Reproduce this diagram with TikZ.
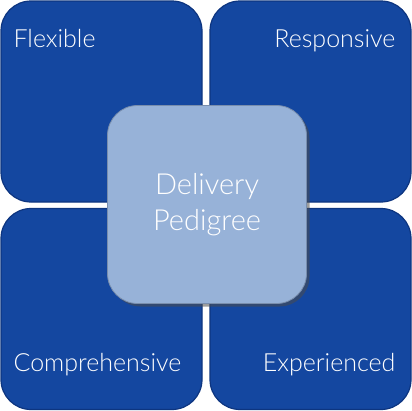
\documentclass[tikz,border=0pt]{standalone}
\usepackage{fontspec}
\setmainfont{Lato}[UprightFont=* Light]
\usetikzlibrary{positioning,shadows}
\definecolor{tileblue}{HTML}{1447A0}
\definecolor{tileedge}{HTML}{0D3580}
\definecolor{coreblue}{HTML}{97B2D8}

\begin{document}
\begin{tikzpicture}[
    x=1pt, y=1pt,
    tile/.style={
        fill=tileblue,
        draw=tileedge,
        line width=1.2pt,
        rounded corners=30pt,
        minimum width=201pt,
        minimum height=201pt,
        inner sep=0pt
    },
    core/.style={
        fill=coreblue,
        draw=coreblue!80!black,
        line width=0.8pt,
        rounded corners=30pt,
        minimum width=199pt,
        minimum height=198pt,
        align=center,
        text=white,
        font=\fontsize{29}{36}\selectfont,
        drop shadow={shadow xshift=3pt, shadow yshift=-3pt, opacity=0.55, fill=black!70}
    },
    tiletext/.style={text=white, inner sep=0pt, font=\fontsize{25}{30}\selectfont}
]
\useasboundingbox (0,0) rectangle (412,-410);

% --- Outer tiles ---
\node[tile] (flex) at (101.5,-101.5) {};
\node[tile] (resp) at (310.5,-101.5) {};
\node[tile] (comp) at (101.5,-309) {};
\node[tile] (expe) at (310.5,-309) {};

% --- Tile labels ---
\node[tiletext, anchor=base west] at ([xshift=13pt, yshift=-47pt]flex.north west) {Flexible};
\node[tiletext, anchor=base east] at ([xshift=-16pt, yshift=-47pt]resp.north east) {Responsive};
\node[tiletext, anchor=base west] at ([xshift=13pt, yshift=39pt]comp.south west) {Comprehensive};
\node[tiletext, anchor=base east] at ([xshift=-16pt, yshift=39pt]expe.south east) {Experienced};

% --- Centre tile ---
\node[core] (pedigree) at (207,-204.5) {Delivery\\Pedigree};

\end{tikzpicture}
\end{document}
